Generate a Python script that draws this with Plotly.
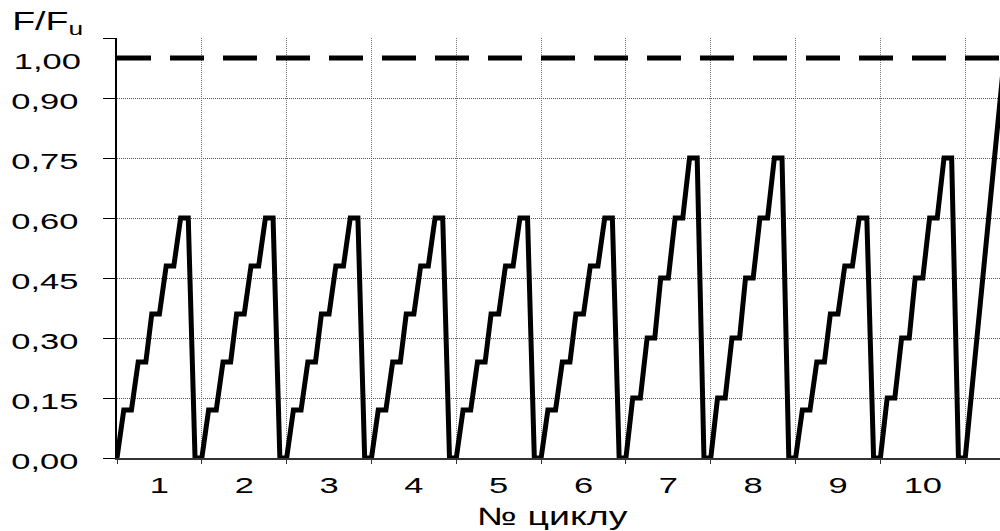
import plotly.graph_objects as go

# Load programme: ten loading cycles, then a final ramp to failure
cycles = [1, 2, 3, 4, 5, 6, 7, 8, 9, 10]
cycle_peak = [0.60, 0.60, 0.60, 0.60, 0.60, 0.60, 0.75, 0.75, 0.60, 0.75]

# load steps (F/Fu) reached within a cycle, by peak level
steps_060 = [0.12, 0.24, 0.36, 0.48, 0.60]
steps_075 = [0.15, 0.30, 0.45, 0.60, 0.75]

# position of each break point inside one cycle (fraction of the cycle)
phase = [0.0, 0.08, 0.17, 0.25, 0.34, 0.41, 0.50, 0.58, 0.67, 0.75, 0.84, 0.92, 1.0]

# final loading up to failure
ramp_x = [10.0, 10.46]
ramp_y = [0.0, 1.0]

ultimate = 1.0

y_tick_vals = [0.0, 0.15, 0.30, 0.45, 0.60, 0.75, 0.90]
y_tick_text = ["0,00", "0,15", "0,30", "0,45", "0,60", "0,75", "0,90"]

x_min, x_max = 0.0, 10.41
y_min, y_max = 0.0, 1.05

# build the loading path: rise, hold, rise, hold ... unload, rest
xs, ys = [], []
for i, peak in enumerate(cycle_peak):
    steps = steps_075 if peak == 0.75 else steps_060
    levels = [0.0]
    for s in steps:
        levels += [s, s]
    levels += [0.0, 0.0]
    for p, v in zip(phase, levels):
        xs.append(i + p)
        ys.append(v)
xs += ramp_x
ys += ramp_y

font_family = "Liberation Sans, Arial, sans-serif"
fsize = 23

fig = go.Figure()

fig.add_trace(go.Scatter(
    x=[x_min, x_max], y=[ultimate, ultimate], mode="lines",
    line=dict(color="black", width=5, dash="34px,19px"),
    hoverinfo="skip", showlegend=False,
))

fig.add_trace(go.Scatter(
    x=xs, y=ys, mode="lines",
    line=dict(color="black", width=5),
    showlegend=False,
))

fig.update_layout(
    width=1000, height=531,
    margin=dict(l=117, r=0, t=38, b=73),
    paper_bgcolor="white", plot_bgcolor="white",
    font=dict(family=font_family, size=fsize, color="black"),
    showlegend=False,
)

fig.update_xaxes(
    range=[x_min, x_max],
    tickvals=[c - 0.5 for c in cycles],
    ticktext=[str(c) for c in cycles],
    ticks="", showgrid=False, zeroline=False,
    showline=True, linecolor="#333", linewidth=2,
    ticklabelstandoff=5,
    tickfont=dict(family=font_family, size=fsize, color="black"),
    minor=dict(
        tickvals=list(range(0, 11)),
        ticks="outside", ticklen=4, tickcolor="#333", tickwidth=1,
        showgrid=True, gridcolor="#777", griddash="1px,1px", gridwidth=1,
    ),
)

fig.update_yaxes(
    range=[y_min, y_max],
    tickvals=y_tick_vals, ticktext=y_tick_text,
    ticks="outside", ticklen=12, tickcolor="black", tickwidth=1,
    showgrid=True, gridcolor="#555", griddash="1px,1px", gridwidth=1,
    zeroline=False, showline=True, linecolor="black", linewidth=2,
    ticklabelstandoff=20, ticklabelshift=3,
    tickfont=dict(family=font_family, size=fsize, color="black"),
    # top frame line of the plot area
    minor=dict(
        tickvals=[y_max],
        ticks="outside", ticklen=12, tickcolor="black", tickwidth=1,
        showgrid=True, gridcolor="#999", griddash="1px,1px", gridwidth=1,
    ),
)

# label of the ultimate-load level (drawn without a tick mark)
fig.add_annotation(
    x=0, xref="paper", xshift=-70, y=ultimate, yref="y", yshift=-3,
    text="1,00", showarrow=False, xanchor="center", yanchor="middle",
    font=dict(family=font_family, size=fsize, color="black"),
)

# axis captions
fig.add_annotation(
    x=0, xref="paper", xshift=-70, y=1, yref="paper", yshift=-3,
    text="F/F<sub>u</sub>", showarrow=False, xanchor="center", yanchor="bottom",
    font=dict(family=font_family, size=25, color="black"),
)
fig.add_annotation(
    x=0.493, xref="paper", y=0, yref="paper", yshift=-58,
    text="№ циклу", showarrow=False, xanchor="center", yanchor="middle",
    font=dict(family=font_family, size=25, color="black"),
)

# the lettering of this chart is set in a horizontally expanded face:
# widen every label about its own anchor point
widen_js = """
var gd = document.getElementById('{plot_id}');
function widenText() {
  gd.querySelectorAll('.xtick text, .ytick text, .annotation-text').forEach(function (t) {
    var base = (t.getAttribute('transform') || '').replace(/\\s*translate\\([^)]*\\) scale\\([^)]*\\) translate\\([^)]*\\)$/, '');
    var x = parseFloat(t.getAttribute('x')) || 0;
    t.setAttribute('transform', base + ' translate(' + x + ',0) scale(1.5,1) translate(' + (-x) + ',0)');
  });
}
widenText();
gd.on('plotly_afterplot', widenText);
"""

fig.write_html("out.html", post_script=widen_js)
